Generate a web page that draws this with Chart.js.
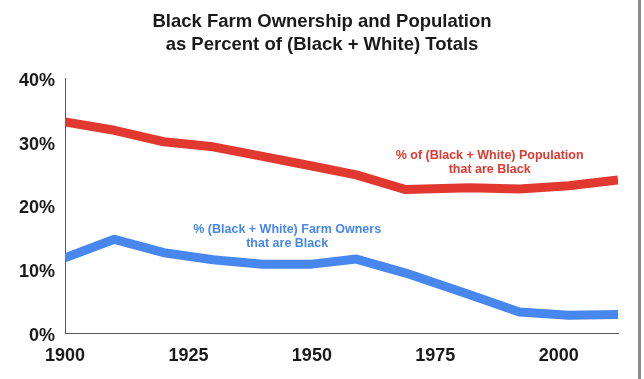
<!DOCTYPE html>
<html>
<head>
<meta charset="utf-8">
<script src="https://cdn.jsdelivr.net/npm/chart.js@4/dist/chart.umd.min.js"></script>
<style>
  body { margin: 0; background: #fff; }
  #wrap { position: relative; width: 644px; height: 379px; }
  #edge { position: absolute; left: 638px; top: 0; width: 3px; height: 379px; background: #8c8c8c; }
</style>
</head>
<body>
<div id="wrap">
  <canvas id="farmChart" width="644" height="379"></canvas>
  <div id="edge"></div>
</div>
<script>
// years of the data points (census years)
var years = [1900, 1910, 1920, 1930, 1940, 1950, 1959, 1969, 1982, 1992, 2002, 2012];
// % of (black + white) population that are black
var popShare = [33.1, 31.8, 30.0, 29.2, 27.7, 26.2, 24.8, 22.5, 22.8, 22.6, 23.1, 24.0];
// % of (black + white) farm owners that are black
var farmShare = [11.8, 14.7, 12.6, 11.5, 10.8, 10.8, 11.6, 9.4, 6.0, 3.3, 2.8, 2.9];

var xTicks = [1900, 1925, 1950, 1975, 2000];
var yTicks = [0, 10, 20, 30, 40];

var titleLines = ["Black Farm Ownership and Population", "as Percent of (Black + White) Totals"];
var popLabel = ["% of (Black + White) Population", "that are Black"];
var farmLabel = ["% (Black + White) Farm Owners", "that are Black"];

var RED = "#e1392f";
var BLUE = "#4787ee";
var FONT = "'Liberation Sans', Arial, sans-serif";

function points(ys) {
    return years.map(function (yr, i) { return { x: yr, y: ys[i] }; });
}

// title is centred on the whole picture, not on the plot, so draw it by hand
var pageTitle = {
    id: "pageTitle",
    afterDraw: function (chart) {
        var ctx = chart.ctx;
        ctx.save();
        ctx.font = "bold 18.5px " + FONT;
        ctx.fillStyle = "#1a1a1a";
        ctx.textAlign = "center";
        ctx.textBaseline = "middle";
        ctx.fillText(titleLines[0], chart.width / 2, 21.5);
        ctx.fillText(titleLines[1], chart.width / 2, 44.5);
        ctx.restore();
    }
};

// text labels next to the lines
var lineLabels = {
    id: "lineLabels",
    afterDatasetsDraw: function (chart) {
        var ctx = chart.ctx;
        var xs = chart.scales.x, ys = chart.scales.y;
        ctx.save();
        ctx.font = "bold 12.5px " + FONT;
        ctx.textAlign = "center";
        ctx.textBaseline = "middle";

        ctx.fillStyle = RED;
        var px = xs.getPixelForValue(1986);
        ctx.fillText(popLabel[0], px, ys.getPixelForValue(27.9));
        ctx.fillText(popLabel[1], px, ys.getPixelForValue(25.6));

        ctx.fillStyle = BLUE;
        px = xs.getPixelForValue(1945);
        ctx.fillText(farmLabel[0], px, ys.getPixelForValue(16.2));
        ctx.fillText(farmLabel[1], px, ys.getPixelForValue(14.0));
        ctx.restore();
    }
};

var ctx = document.getElementById("farmChart").getContext("2d");
new Chart(ctx, {
    type: "line",
    data: {
        datasets: [{
            label: "Population",
            data: points(popShare),
            borderColor: RED,
            borderWidth: 9,
            pointRadius: 0,
            borderJoinStyle: "round",
            fill: false
        }, {
            label: "Farm owners",
            data: points(farmShare),
            borderColor: BLUE,
            borderWidth: 9,
            pointRadius: 0,
            borderJoinStyle: "round",
            fill: false
        }]
    },
    options: {
        responsive: false,
        animation: false,
        layout: { padding: { left: 0, right: 26, top: 78, bottom: 0 } },
        plugins: {
            legend: { display: false },
            tooltip: { enabled: false },
            title: { display: false }
        },
        scales: {
            x: {
                type: "linear",
                min: 1900,
                max: 2012,
                grid: { display: false, drawTicks: false },
                border: { display: true, color: "#555", width: 1 },
                afterFit: function (s) { s.height = 46; },
                afterBuildTicks: function (s) { s.ticks = xTicks.map(function (v) { return { value: v }; }); },
                ticks: {
                    padding: 12,
                    color: "#1a1a1a",
                    font: { family: FONT, size: 18, weight: "bold" },
                    maxRotation: 0,
                    callback: function (v) { return String(v); }
                }
            },
            y: {
                min: 0,
                max: 40,
                grid: { display: false, drawTicks: false },
                border: { display: true, color: "#555", width: 1 },
                afterFit: function (s) { s.width = 65; },
                afterBuildTicks: function (s) { s.ticks = yTicks.map(function (v) { return { value: v }; }); },
                ticks: {
                    padding: 10,
                    labelOffset: 3,
                    color: "#1a1a1a",
                    font: { family: FONT, size: 18, weight: "bold" },
                    callback: function (v) { return v + "%"; }
                }
            }
        }
    },
    plugins: [pageTitle, lineLabels]
});
</script>
</body>
</html>
